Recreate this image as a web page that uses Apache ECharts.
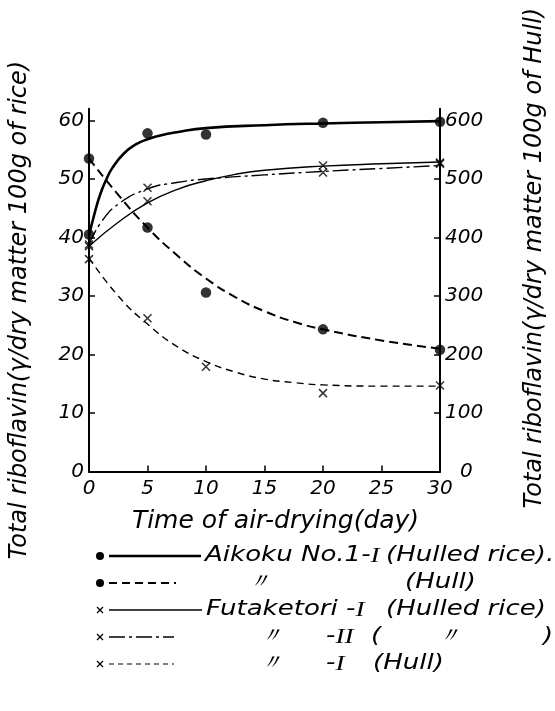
<!DOCTYPE html>
<html>
<head>
<meta charset="utf-8">
<script src="https://cdn.jsdelivr.net/npm/echarts@6/dist/echarts.min.js"></script>
<style>
  html, body { margin: 0; padding: 0; background: #fff; }
  #chart { width: 555px; height: 711px; }
</style>
</head>
<body>
<div id="chart"></div>
<script>
// ---- measured values (rice: γ/100 g dry rice, hull: γ/100 g dry hull) ----
const sampleDays     = [0, 5, 10, 20, 30];
const aikokuRicePts  = [40.5, 57.8, 57.6, 59.6, 59.8];
const aikokuHullPts  = [535, 417, 306, 243, 208];
const futaDays       = [0, 5, 20, 30];
const futaIRicePts   = [38.5, 46.2, 52.3, 52.8];
const futaIIRicePts  = [38.8, 48.5, 51.1, 52.6];
const futaHullPts    = [363, 262, 179, 134, 147];

// ---- fitted curves ----
const aikokuRiceCurveDays = [0, 0.5, 1, 1.5, 2, 3, 4, 5, 6, 7.5, 10, 15, 20, 25, 30];
const aikokuRiceCurve     = [40.3, 44.3, 47.6, 50.0, 51.9, 54.4, 55.9, 56.8, 57.4, 58.0, 58.7, 59.2, 59.5, 59.7, 59.9];
const aikokuHullCurveDays = [0, 2.5, 5, 7.5, 10, 12.5, 15, 17.5, 20, 25, 30];
const aikokuHullCurve     = [535, 473, 417, 370, 330, 298, 274, 256, 243, 224, 210];
const futaIRiceCurveDays  = [0, 2.5, 5, 7.5, 10, 12.5, 15, 20, 25, 30];
const futaIRiceCurve      = [38.5, 42.6, 45.9, 48.2, 49.7, 50.8, 51.5, 52.2, 52.6, 52.9];
const futaIIRiceCurveDays = [0, 1, 2.5, 5, 7.5, 10, 15, 20, 25, 30];
const futaIIRiceCurve     = [38.8, 42.5, 45.7, 48.3, 49.4, 50.0, 50.7, 51.3, 51.8, 52.3];
const futaHullCurveDays   = [0, 2.5, 5, 7.5, 10, 12.5, 15, 17.5, 20, 25, 30];
const futaHullCurve       = [365, 300, 252, 214, 188, 170, 158, 152, 148, 146, 146];

// ---- ticks ----
const dayTicks  = [0, 5, 10, 15, 20, 25, 30];
const riceTicks = [0, 10, 20, 30, 40, 50, 60];
const hullTicks = [0, 100, 200, 300, 400, 500, 600];

const FONT = 'DejaVu Sans';
const pair = (xs, ys) => xs.map((x, i) => [x, ys[i]]);
const CROSS = 'path://M0,0L10,10M10,0L0,10';

const lineSeries = (data, yIdx, width, type) => ({
  type: 'line', data, yAxisIndex: yIdx, smooth: 0.5,
  showSymbol: false, silent: true, z: 2,
  lineStyle: { color: '#000', width, type }
});
const dotSeries = (data, yIdx) => ({
  type: 'scatter', data, yAxisIndex: yIdx, symbol: 'circle', symbolSize: 10.5, z: 3,
  itemStyle: { color: '#000' }
});
const crossSeries = (data, yIdx) => ({
  type: 'scatter', data, yAxisIndex: yIdx, symbol: CROSS, symbolSize: 8, z: 3,
  itemStyle: { color: 'rgba(0,0,0,0)', borderColor: '#000', borderWidth: 1.5 }
});

const tickLabel = { color: '#000', fontFamily: FONT, fontStyle: 'italic', fontSize: 20 };
const titleStyle = { color: '#000', fontFamily: FONT, fontStyle: 'italic', fontSize: 24 };
const axisLine = { lineStyle: { color: '#000', width: 2 } };
const tick = (vals) => ({ inside: true, length: 6, lineStyle: { color: '#000', width: 1.5 }, customValues: vals });

// ---- legend (drawn as graphic elements) ----
const legendRows = [
  { marker: 'dot',   width: 2.6, dash: null,          len: 92, pieces: [['Aikoku No.1-{r|I}', 205], ['(Hulled rice).', 386]] },
  { marker: 'dot',   width: 2,   dash: [8, 5],        len: 67, pieces: [['〃', 246], ['(Hull)', 405]] },
  { marker: 'cross', width: 1.3, dash: null,          len: 93, pieces: [['Futaketori -{r|I}', 206], ['(Hulled rice)', 386]] },
  { marker: 'cross', width: 1.3, dash: [16, 4, 3, 4], len: 65, pieces: [['〃', 258], ['-{r|II}', 326], ['(', 371], ['〃', 436], [')', 543]] },
  { marker: 'cross', width: 1.1, dash: [5, 4],        len: 65, pieces: [['〃', 258], ['-{r|I}', 326], ['(Hull)', 373]] }
];
const legendGraphics = [];
legendRows.forEach((row, i) => {
  const cy = 556 + i * 27;
  if (row.marker === 'dot') {
    legendGraphics.push({ type: 'circle', shape: { cx: 100, cy, r: 4 }, style: { fill: '#000' } });
  } else {
    legendGraphics.push({ type: 'line', shape: { x1: 97, y1: cy - 3, x2: 103, y2: cy + 3 }, style: { stroke: '#000', lineWidth: 1.2 } });
    legendGraphics.push({ type: 'line', shape: { x1: 97, y1: cy + 3, x2: 103, y2: cy - 3 }, style: { stroke: '#000', lineWidth: 1.2 } });
  }
  legendGraphics.push({
    type: 'line', shape: { x1: 109, y1: cy, x2: 109 + row.len, y2: cy },
    style: { stroke: '#000', lineWidth: row.width, lineDash: row.dash || null }
  });
  row.pieces.forEach(([txt, x]) => {
    legendGraphics.push({
      type: 'text', x, y: cy, scaleX: 1.24,
      style: {
        text: txt, fill: '#000', font: 'italic 21px "' + FONT + '"',
        verticalAlign: 'middle', align: 'left',
        rich: { r: { fontFamily: 'Liberation Serif', fontStyle: 'italic', fontSize: 22 } }
      }
    });
  });
});

const chart = echarts.init(document.getElementById('chart'), null, { renderer: 'canvas' });
chart.setOption({
  animation: false,
  backgroundColor: '#fff',
  grid: { left: 86.5, right: 113.3, top: 108.8, bottom: 239.5, containLabel: false },
  xAxis: {
    type: 'value', min: 0, max: 30, interval: 5,
    axisLine, axisTick: tick(dayTicks), splitLine: { show: false },
    axisLabel: { ...tickLabel, margin: 7 },
    name: 'Time of air-drying(day)', nameLocation: 'middle', nameGap: 37,
    nameTextStyle: { ...titleStyle, fontSize: 25, padding: [0, 0, 0, 22] }
  },
  yAxis: [
    {
      type: 'value', min: 0, max: 62, position: 'left',
      axisLine, axisTick: tick(riceTicks), splitLine: { show: false },
      axisLabel: { ...tickLabel, margin: 5, customValues: riceTicks },
      name: 'Total riboflavin(γ/dry matter 100g of rice)', nameLocation: 'middle',
      nameRotate: 90, nameGap: 57,
      nameTextStyle: { ...titleStyle, padding: [0, 40, 0, 0] }
    },
    {
      type: 'value', min: 0, max: 620, position: 'right',
      axisLine, axisTick: tick(hullTicks), splitLine: { show: false },
      axisLabel: {
        ...tickLabel, margin: 5, customValues: hullTicks,
        formatter: v => (v === 0 ? '{z|0}' : String(v)),
        rich: { z: { ...tickLabel, padding: [0, 0, 0, 15] } }
      },
      name: 'Total riboflavin(γ/dry matter 100g of Hull)', nameLocation: 'middle',
      nameRotate: 90, nameGap: 83,
      nameTextStyle: { ...titleStyle, padding: [0, 0, 0, 64] }
    }
  ],
  series: [
    lineSeries(pair(aikokuRiceCurveDays, aikokuRiceCurve), 0, 2.6, 'solid'),
    lineSeries(pair(aikokuHullCurveDays, aikokuHullCurve), 1, 2, [9, 5]),
    lineSeries(pair(futaIRiceCurveDays, futaIRiceCurve), 0, 1.4, 'solid'),
    lineSeries(pair(futaIIRiceCurveDays, futaIIRiceCurve), 0, 1.4, [16, 4, 3, 4]),
    lineSeries(pair(futaHullCurveDays, futaHullCurve), 1, 1.4, [7, 5]),
    dotSeries(pair(sampleDays, aikokuRicePts), 0),
    dotSeries(pair(sampleDays, aikokuHullPts), 1),
    crossSeries(pair(futaDays, futaIRicePts), 0),
    crossSeries(pair(futaDays, futaIIRicePts), 0),
    crossSeries(pair(sampleDays, futaHullPts), 1)
  ],
  graphic: legendGraphics
});
</script>
</body>
</html>
